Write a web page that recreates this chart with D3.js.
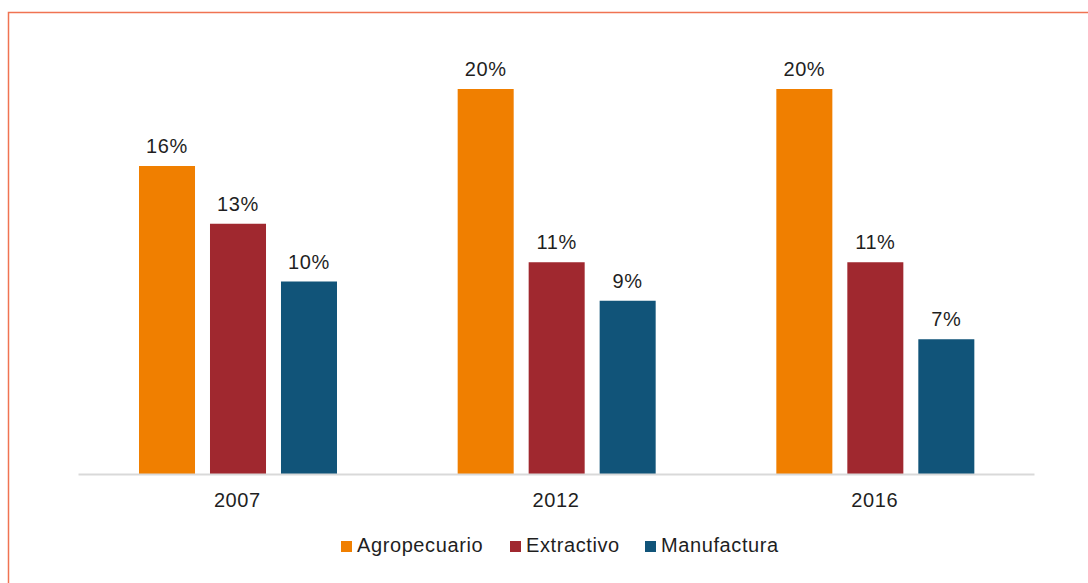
<!DOCTYPE html>
<html>
<head>
<meta charset="utf-8">
<script src="https://cdn.jsdelivr.net/npm/d3@7"></script>
<style>
  html, body { margin: 0; padding: 0; background: #ffffff; }
  svg { display: block; }
</style>
</head>
<body>
<svg id="chart" width="1088" height="583"></svg>
<script>
// Participación por sector y año
const years = ["2007", "2012", "2016"];
const sectors = ["Agropecuario", "Extractivo", "Manufactura"];
const agropecuario = [0.16, 0.20, 0.20];
const extractivo = [0.13, 0.11, 0.11];
const manufactura = [0.10, 0.09, 0.07];
const sectorColors = ["#F07F00", "#A0282F", "#115479"];

const seriesValues = [agropecuario, extractivo, manufactura];
const rows = years.map((year, i) => ({
  year,
  values: sectors.map((s, j) => ({ sector: s, value: seriesValues[j][i], color: sectorColors[j] }))
}));

const svg = d3.select("#chart");
const W = 1088, H = 583;
const font = "'Liberation Sans', Arial, sans-serif";
const fontSize = 20;
const spacing = 0.6;
const textColor = "#1F1F1F";

// outer frame
svg.append("rect")
  .attr("x", 8.5).attr("y", 12.5)
  .attr("width", W + 20).attr("height", H + 20)
  .attr("fill", "none")
  .attr("stroke", "#F07352")
  .attr("stroke-width", 1.5);

const plotLeft = 78, plotRight = 1034, baseline = 474;

const x0 = d3.scaleBand().domain(years).range([plotLeft, plotRight]).padding(0);
const x1 = d3.scaleBand().domain(sectors).range([61, 259]).paddingInner(0.211).paddingOuter(0);
const y = d3.scaleLinear().domain([0, 0.20]).range([baseline, 89]);
const fmt = d3.format(".0%");

const groups = svg.append("g").selectAll("g")
  .data(rows)
  .join("g")
  .attr("transform", d => `translate(${x0(d.year)},0)`);

groups.selectAll("rect")
  .data(d => d.values)
  .join("rect")
  .attr("x", d => x1(d.sector))
  .attr("y", d => y(d.value))
  .attr("width", x1.bandwidth())
  .attr("height", d => baseline - y(d.value))
  .attr("fill", d => d.color);

groups.selectAll("text.val")
  .data(d => d.values)
  .join("text")
  .attr("class", "val")
  .attr("x", d => x1(d.sector) + x1.bandwidth() / 2)
  .attr("y", d => y(d.value) - 13)
  .attr("text-anchor", "middle")
  .attr("font-family", font)
  .attr("font-size", fontSize)
  .attr("letter-spacing", spacing)
  .attr("fill", textColor)
  .text(d => fmt(d.value));

// category axis
const xAxis = svg.append("g")
  .attr("transform", `translate(0,${baseline})`)
  .call(d3.axisBottom(x0).tickSize(0).tickPadding(0));
xAxis.select(".domain").attr("stroke", "#D9D9D9").attr("stroke-width", 2);
xAxis.selectAll("text")
  .attr("font-family", font)
  .attr("font-size", fontSize)
  .attr("letter-spacing", spacing)
  .attr("fill", textColor)
  .attr("y", 33)
  .attr("dy", null);

// legend
const legendItems = [
  { name: sectors[0], color: sectorColors[0], x: 341 },
  { name: sectors[1], color: sectorColors[1], x: 510 },
  { name: sectors[2], color: sectorColors[2], x: 645 }
];
const legend = svg.append("g").selectAll("g")
  .data(legendItems)
  .join("g")
  .attr("transform", d => `translate(${d.x},0)`);
legend.append("rect")
  .attr("x", 0).attr("y", 541)
  .attr("width", 11).attr("height", 11)
  .attr("fill", d => d.color);
legend.append("text")
  .attr("x", 16).attr("y", 552)
  .attr("font-family", font)
  .attr("font-size", fontSize)
  .attr("letter-spacing", spacing)
  .attr("fill", textColor)
  .text(d => d.name);
</script>
</body>
</html>
